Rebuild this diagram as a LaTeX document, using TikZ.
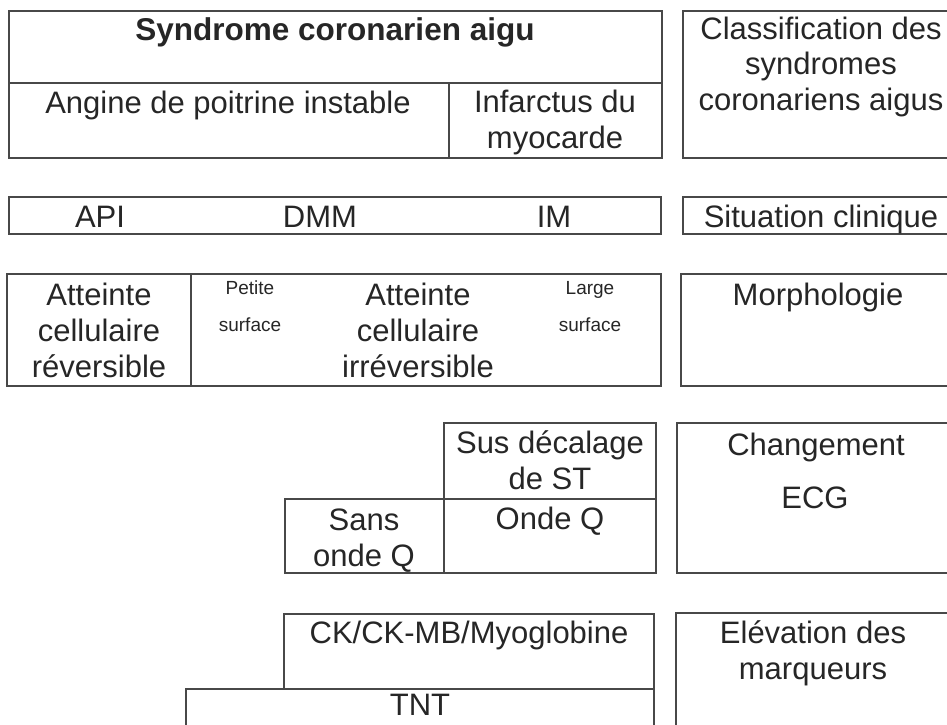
\documentclass[tikz,border=0pt]{standalone}
\usepackage{fontspec}
\setmainfont{Liberation Sans}
\usetikzlibrary{positioning}
\definecolor{lineColor}{RGB}{72,72,72}
\definecolor{textColor}{RGB}{38,38,38}
\tikzstyle{sheet} = [x = 1pt, y = -1pt]
\tikzstyle{cellLine} = [color=lineColor, line width=1.1pt]
\tikzstyle{cellText} = [text=textColor, font=\fontsize{31}{36}\selectfont, align=center, inner sep=0pt, anchor=base]
\tikzstyle{smallText} = [cellText, font=\fontsize{19}{37}\selectfont]
\newcommand{\cell}[4]{\draw [cellLine] (#1, #2) rectangle (#3, #4);}
\newcommand{\vLine}[3]{\draw [cellLine] (#1, #2) -- (#1, #3);}
\newcommand{\hLine}[3]{\draw [cellLine] (#1, #3) -- (#2, #3);}

\begin{document}
\begin{tikzpicture}[sheet]
          \useasboundingbox [fill=white] (0,0) rectangle (947,724);
          \clip (0,0) rectangle (947,724);

          \cell{9}{11}{662}{158}
          \hLine{9}{662}{83}
          \vLine{449}{83}{158}
          \cell{683}{11}{965}{158}
          \node [cellText, font=\bfseries\fontsize{31.5}{36}\selectfont] (syndrome) at (335,40) {Syndrome coronarien aigu};
          \node [cellText] (angine) at (228,113) {Angine de poitrine instable};
          \node [cellText] (infarctus) at (555,148) {Infarctus du\\myocarde};
          \node [cellText, font=\fontsize{31}{35.5}\selectfont] (classification) at (821,110) {Classification des\\syndromes\\coronariens aigus};

          \cell{9}{197}{661}{234}
          \cell{683}{197}{965}{234}
          \node [cellText] (api) at (100,227) {API};
          \node [cellText] (dmm) at (320,227) {DMM};
          \node [cellText] (im) at (554,227) {IM};
          \node [cellText] (situation) at (821,227) {Situation clinique};

          \cell{7}{274}{661}{386}
          \vLine{191}{274}{386}
          \cell{681}{274}{965}{386}
          \node [cellText] (reversible) at (99,377) {Atteinte\\cellulaire\\réversible};
          \node [smallText] (petite) at (250,331) {Petite\\surface};
          \node [cellText] (irreversible) at (418,377) {Atteinte\\cellulaire\\irréversible};
          \node [smallText] (large) at (590,331) {Large\\surface};
          \node [cellText] (morphologie) at (818,305) {Morphologie};

          \cell{444}{423}{656}{499}
          \cell{285}{499}{656}{573}
          \vLine{444}{499}{573}
          \cell{677}{423}{965}{573}
          \node [cellText] (susST) at (550,489) {Sus décalage\\de ST};
          \node [cellText] (sansQ) at (364,566) {Sans\\onde Q};
          \node [cellText] (ondeQ) at (550,529) {Onde Q};
          \node [cellText] (changement) at (816,455) {Changement};
          \node [cellText] (ecg) at (815,508) {ECG};

          \cell{284}{614}{654}{689}
          \cell{186}{689}{654}{760}
          \cell{676}{613}{965}{760}
          \node [cellText] (ck) at (469,643) {CK/CK-MB/Myoglobine};
          \node [cellText] (elevation) at (813,679) {Elévation des\\marqueurs};
          \node [cellText] (tnt) at (420,715) {TNT};
        \end{tikzpicture}
\end{document}
